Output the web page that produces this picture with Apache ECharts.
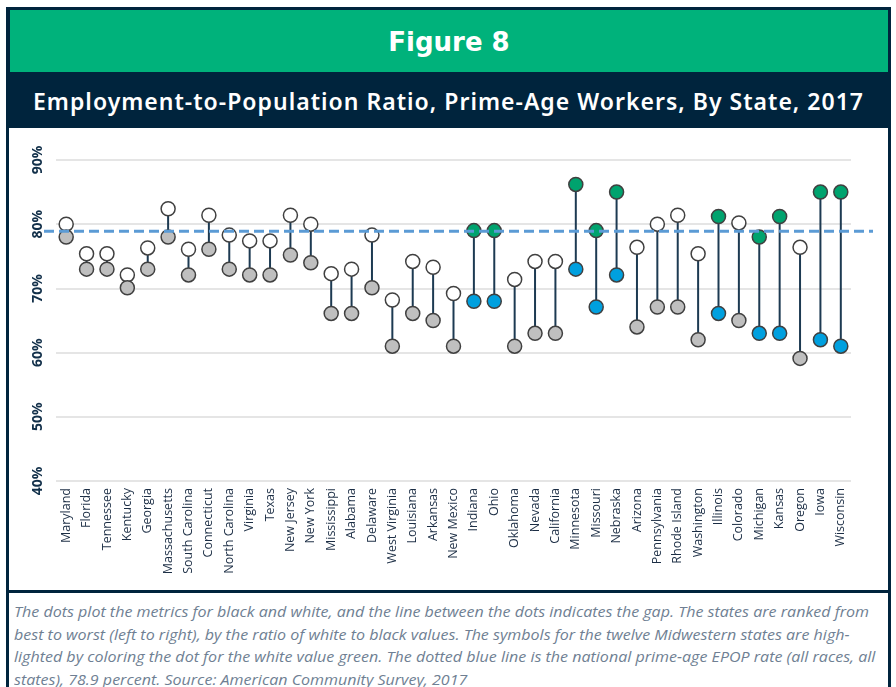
<!DOCTYPE html>
<html><head><meta charset="utf-8">
<script src="https://cdn.jsdelivr.net/npm/echarts@6/dist/echarts.min.js"></script>
<style>
html,body{margin:0;padding:0;width:896px;height:687px;overflow:hidden;background:#fff;}
#frame{position:absolute;left:6px;top:7px;width:885px;height:680px;background:#00243d;}
#green{position:absolute;left:10px;top:10px;width:878px;height:62px;background:#00b27b;}
#chartbg{position:absolute;left:9px;top:128px;width:879px;height:462px;background:#fff;}
#notebg{position:absolute;left:9px;top:593px;width:879px;height:94px;background:#fff;}
#fig{position:absolute;left:10px;top:10px;width:878px;height:62px;line-height:64px;text-align:center;color:#fff;font-weight:bold;font-size:26px;font-family:"DejaVu Sans";}
#sub{position:absolute;left:9px;top:72px;width:879px;height:56px;line-height:58px;text-align:center;color:#fff;font-weight:600;font-size:23px;font-family:"Noto Sans";white-space:nowrap;}
#note{position:absolute;left:14px;top:600px;color:#6f7f93;font-style:italic;font-size:15px;font-family:"Open Sans";line-height:22.5px;white-space:nowrap;transform-origin:0 0;}
#chart{position:absolute;left:0;top:0;width:896px;height:687px;}
</style></head>
<body>
<div id="frame"></div>
<div id="green"></div>
<div id="chartbg"></div>
<div id="notebg"></div>
<div id="fig">Figure 8</div>
<div id="sub"><span id="subspan">Employment-to-Population Ratio, Prime-Age Workers, By State, 2017</span></div>
<div id="note">
<div><span id="line1">The dots plot the metrics for black and white, and the line between the dots indicates the gap. The states are ranked from</span></div>
<div>best to worst (left to right), by the ratio of white to black values. The symbols for the twelve Midwestern states are high-</div>
<div>lighted by coloring the dot for the white value green. The dotted blue line is the national prime-age EPOP rate (all races, all</div>
<div>states), 78.9 percent. Source: American Community Survey, 2017</div>
</div>
<div id="chart"></div>
<script>
// ---- data ----
const states = ["Maryland","Florida","Tennessee","Kentucky","Georgia","Massachusetts","South Carolina","Connecticut","North Carolina","Virginia","Texas","New Jersey","New York","Mississippi","Alabama","Delaware","West Virginia","Louisiana","Arkansas","New Mexico","Indiana","Ohio","Oklahoma","Nevada","California","Minnesota","Missouri","Nebraska","Arizona","Pennsylvania","Rhode Island","Washington","Illinois","Colorado","Michigan","Kansas","Oregon","Iowa","Wisconsin"];
const whiteVals = [80.0,75.4,75.4,72.1,76.3,82.4,76.1,81.4,78.3,77.4,77.4,81.4,80.0,72.3,73.0,78.3,68.2,74.2,73.3,69.2,79.0,79.0,71.4,74.2,74.2,86.2,79.0,85.0,76.4,80.0,81.4,75.4,81.2,80.2,78.0,81.2,76.4,85.0,85.0];
const blackVals = [78.0,73.0,73.0,70.1,73.0,78.0,72.1,76.1,73.0,72.1,72.1,75.2,74.0,66.1,66.1,70.1,61.0,66.1,65.0,61.0,68.0,68.0,61.0,63.0,63.0,73.0,67.1,72.1,64.0,67.1,67.1,62.0,66.1,65.0,63.0,63.0,59.1,62.0,61.0];
const midwest = ["Indiana","Ohio","Minnesota","Missouri","Nebraska","Illinois","Michigan","Kansas","Iowa","Wisconsin"];
const yTicks = [40,50,60,70,80,90];
const nationalRate = 78.9;

// ---- text fitting ----
(function(){
  const s=document.getElementById('subspan');
  const w=s.getBoundingClientRect().width;
  const txt=s.textContent;
  document.getElementById('sub').style.letterSpacing=((830-w)/(txt.length-1))+'px';
  const l1=document.getElementById('line1');
  const w1=l1.getBoundingClientRect().width;
  document.getElementById('note').style.transform='scaleX('+(855/w1)+')';
})();

const GREEN='#00a36e', BLUE='#00a0df', GRAY='#bfbfbf', WHITE='#ffffff';
const chart = echarts.init(document.getElementById('chart'), null, {renderer:'canvas'});
chart.setOption({
  animation:false,
  backgroundColor:'transparent',
  grid:[
    {left:56, right:45, top:160, bottom:206},
    {left:44, right:23, top:160, bottom:206}
  ],
  xAxis:[
    {type:'category', gridIndex:0, data:states,
     axisLine:{show:false}, axisTick:{show:false},
     axisLabel:{rotate:90, interval:0, margin:7, color:'#1c2e45', fontSize:12.5, fontFamily:'Open Sans'}},
    {type:'value', gridIndex:1, min:0, max:1, show:false}
  ],
  yAxis:[
    {type:'value', gridIndex:0, min:yTicks[0], max:yTicks[yTicks.length-1], interval:10,
     axisLine:{show:false}, axisTick:{show:false},
     splitLine:{lineStyle:{color:'#dcdcdc', width:1.5}},
     axisLabel:{rotate:90, margin:11, color:'#12304a', fontWeight:'bold', fontSize:14, fontFamily:'Open Sans', formatter:'{value}%'}},
    {type:'value', gridIndex:1, min:yTicks[0], max:yTicks[yTicks.length-1], show:false}
  ],
  series:[
    {type:'custom', xAxisIndex:0, yAxisIndex:0, silent:true, z:2,
     data: states.map((s,i)=>[i, whiteVals[i], blackVals[i]]),
     encode:{x:0, y:[1,2]},
     renderItem:function(params, api){
       const p1=api.coord([api.value(0), api.value(1)]);
       const p2=api.coord([api.value(0), api.value(2)]);
       return {type:'line', shape:{x1:p1[0],y1:p1[1],x2:p2[0],y2:p2[1]}, style:{stroke:'#1d3a52', lineWidth:2}};
     }},
    {type:'scatter', name:'White', xAxisIndex:0, yAxisIndex:0, z:3, symbolSize:14,
     itemStyle:{borderColor:'#404040', borderWidth:1.5, opacity:1},
     data: whiteVals.map((v,i)=>({value:[i,v], itemStyle:{color: midwest.includes(states[i])?GREEN:WHITE}}))},
    {type:'scatter', name:'Black', xAxisIndex:0, yAxisIndex:0, z:4, symbolSize:14,
     itemStyle:{borderColor:'#404040', borderWidth:1.5, opacity:1},
     data: blackVals.map((v,i)=>({value:[i,v], itemStyle:{color: midwest.includes(states[i])?BLUE:GRAY}}))},
    {type:'line', xAxisIndex:1, yAxisIndex:1, z:10, symbol:'none', silent:true,
     lineStyle:{color:'#5b9bd5', width:3, type:[10,5]},
     data:[[0,nationalRate],[1,nationalRate]]}
  ]
});
</script>
</body></html>
